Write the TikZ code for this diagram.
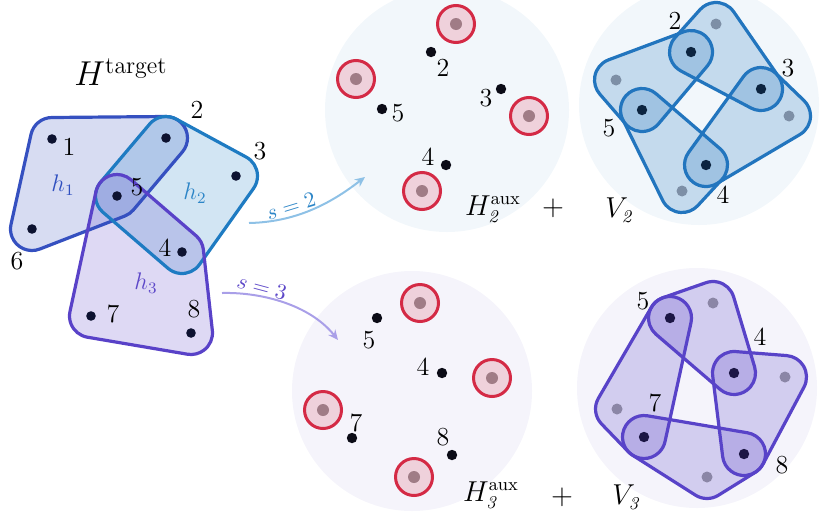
\documentclass[tikz,border=0pt]{standalone}
\usetikzlibrary{arrows.meta}
\definecolor{hAline}{HTML}{3550C0}
\definecolor{hBline}{HTML}{1E7BC2}
\definecolor{hCline}{HTML}{5942C8}
\definecolor{vBline}{HTML}{2275BE}
\definecolor{vPline}{HTML}{5843C8}
\definecolor{bgTop}{HTML}{F2F7FB}
\definecolor{bgBot}{HTML}{F5F4FB}
\definecolor{ringRed}{HTML}{D42A45}
\definecolor{ringFill}{HTML}{EFD1DB}
\definecolor{ringCore}{HTML}{A07C86}
\definecolor{dotBlack}{HTML}{0B0B16}
\definecolor{dotLeft}{HTML}{0D1230}
\definecolor{grayB}{HTML}{7D8FA6}
\definecolor{grayP}{HTML}{8B86A6}
\definecolor{darkB}{HTML}{0C2440}
\definecolor{darkP}{HTML}{1C1645}
\definecolor{arrB}{HTML}{8EC1E6}
\definecolor{arrP}{HTML}{A99FE8}
\definecolor{lblB}{HTML}{2C85C7}
\definecolor{lblA}{HTML}{2F4FBF}
\definecolor{lblP}{HTML}{5D48C8}
\makeatletter
\newcommand\hullcompute[2]{%
  \gdef\hull@n{0}%
  \foreach \hull@px/\hull@py [count=\hull@i] in {#2}{%
    \expandafter\xdef\csname hull@x\hull@i\endcsname{\hull@px}%
    \expandafter\xdef\csname hull@y\hull@i\endcsname{\hull@py}%
    \xdef\hull@n{\hull@i}}%
  \pgfmathtruncatemacro\hull@m{\hull@n+1}%
  \expandafter\xdef\csname hull@x\hull@m\endcsname{\csname hull@x1\endcsname}%
  \expandafter\xdef\csname hull@y\hull@m\endcsname{\csname hull@y1\endcsname}%
  \pgfmathsetmacro\hull@cr{((\csname hull@x2\endcsname)-(\csname hull@x1\endcsname))/10*((\csname hull@y3\endcsname)-(\csname hull@y1\endcsname))/10-((\csname hull@y2\endcsname)-(\csname hull@y1\endcsname))/10*((\csname hull@x3\endcsname)-(\csname hull@x1\endcsname))/10}%
  \pgfmathsetmacro\hull@s{\hull@cr>0 ? 1 : -1}%
  \foreach \hull@i in {1,...,\hull@n}{%
    \pgfmathtruncatemacro\hull@j{\hull@i+1}%
    \pgfmathsetmacro\hull@ang{atan2((\csname hull@y\hull@j\endcsname)-(\csname hull@y\hull@i\endcsname),(\csname hull@x\hull@j\endcsname)-(\csname hull@x\hull@i\endcsname))-90*(\hull@s)}%
    \expandafter\xdef\csname hull@a\hull@i\endcsname{\hull@ang}}%
  \expandafter\xdef\csname hull@a0\endcsname{\csname hull@a\hull@n\endcsname}%
  \pgfmathsetmacro\hull@ex{(\csname hull@x1\endcsname)+#1*cos(\csname hull@a0\endcsname)}%
  \pgfmathsetmacro\hull@ey{(\csname hull@y1\endcsname)+#1*sin(\csname hull@a0\endcsname)}%
  \xdef\hullp{(\hull@ex,\hull@ey)}%
  \foreach \hull@i in {1,...,\hull@n}{%
    \pgfmathtruncatemacro\hull@k{\hull@i-1}%
    \pgfmathtruncatemacro\hull@j{\hull@i+1}%
    \pgfmathsetmacro\hull@d{(\hull@s)*mod((\hull@s)*((\csname hull@a\hull@i\endcsname)-(\csname hull@a\hull@k\endcsname))+720,360)}%
    \pgfmathsetmacro\hull@ex{(\csname hull@x\hull@j\endcsname)+#1*cos(\csname hull@a\hull@i\endcsname)}%
    \pgfmathsetmacro\hull@ey{(\csname hull@y\hull@j\endcsname)+#1*sin(\csname hull@a\hull@i\endcsname)}%
    \xdef\hullp{\hullp\space arc[start angle=\csname hull@a\hull@k\endcsname, delta angle=\hull@d, radius=#1] -- (\hull@ex,\hull@ey)}}%
}
\newcommand\hullshape[3]{\hullcompute{#2}{#3}\expandafter\hull@draw\expandafter{\hullp}{#1}}
\def\hull@draw#1#2{\path[#2] #1 -- cycle;}
\makeatother
\begin{document}
\begin{tikzpicture}[x=0.5pt,y=-0.5pt,
  numlbl/.style={font=\fontsize{13}{15}\selectfont, inner sep=0pt, text=black},
  bigmath/.style={font=\fontsize{13.5}{16}\selectfont, inner sep=0pt},
  slbl/.style={font=\fontsize{11}{13}\selectfont, inner sep=0pt},
  hlbl/.style={font=\fontsize{12}{14}\selectfont, inner sep=0pt},
  dotL/.style={circle, fill=dotLeft, minimum size=4.8pt, inner sep=0pt},
  dotK/.style={circle, fill=dotBlack, minimum size=5.2pt, inner sep=0pt},
  ringnode/.style={circle, draw=ringRed, line width=1.5pt, fill=ringFill, minimum size=18.5pt, inner sep=0pt},
  corenode/.style={circle, fill=ringCore, minimum size=6pt, inner sep=0pt},
  dkB/.style={circle, fill=darkB, minimum size=5.2pt, inner sep=0pt},
  dkP/.style={circle, fill=darkP, minimum size=5.2pt, inner sep=0pt},
  gyB/.style={circle, fill=grayB, minimum size=5.5pt, inner sep=0pt},
  gyP/.style={circle, fill=grayP, minimum size=5.5pt, inner sep=0pt},
  edgeline/.style={line width=1.6pt, line join=round},
  connB/.style={draw=arrB, line width=1pt, -{Stealth[length=5pt,width=4.5pt]}},
  connP/.style={draw=arrP, line width=1pt, -{Stealth[length=5pt,width=4.5pt]}}
]
\useasboundingbox (0,0) rectangle (822,525);
\clip (0,0) rectangle (822,525);
% background discs
\fill[bgTop] (447,110) circle[radius=122];
\fill[bgTop] (699,105) circle[radius=120];
\fill[bgBot] (412,391) circle[radius=120];
\fill[bgBot] (697,388) circle[radius=120];

% ---------- H target ----------
\hullshape{fill=hAline, fill opacity=0.2}{21.5}{52/139, 166/138, 117/196, 32/229}
\hullshape{fill=hBline, fill opacity=0.2}{21.5}{166/138, 236/176, 182/252, 117/196}
\hullshape{fill=hCline, fill opacity=0.2}{21.5}{117/196, 182/252, 191/333, 91/316}
\hullshape{draw=hAline, edgeline}{21.5}{52/139, 166/138, 117/196, 32/229}
\hullshape{draw=hBline, edgeline}{21.5}{166/138, 236/176, 182/252, 117/196}
\hullshape{draw=hCline, edgeline}{21.5}{117/196, 182/252, 191/333, 91/316}

\node[font=\fontsize{17}{20}\selectfont, inner sep=0pt] (Ht) at (121,72) {$H^{\mathrm{target}}$};
\node[dotL] (t1) at (52,139) {};
\node[dotL] (t2) at (166,138) {};
\node[dotL] (t3) at (236,176) {};
\node[dotL] (t5) at (117,196) {};
\node[dotL] (t6) at (32,229) {};
\node[dotL] (t4) at (182,252) {};
\node[dotL] (t7) at (91,316) {};
\node[dotL] (t8) at (191,333) {};
\node[numlbl] (lt1) at (69,147) {1};
\node[numlbl] (lt2) at (197,110) {2};
\node[numlbl] (lt3) at (260,151) {3};
\node[numlbl] (lt5) at (137,187) {5};
\node[numlbl] (lt6) at (17,261) {6};
\node[numlbl] (lt4) at (165,248) {4};
\node[numlbl] (lt7) at (113,314) {7};
\node[numlbl] (lt8) at (194,309) {8};
\node[hlbl, text=lblA] (lh1) at (63,185) {$h_1$};
\node[hlbl, text=lblB] (lh2) at (195,193) {$h_2$};
\node[hlbl, text=lblP] (lh3) at (146,283) {$h_3$};

% ---------- arrows ----------
\coordinate (a2s) at (249,223);
\coordinate (a2e) at (365,177);
\draw[connB] (a2s) .. controls (300,222) and (335,200) .. (a2e);
\node[slbl, text=lblB, rotate=17] (s2) at (291,206) {$s = 2$};
\coordinate (a3s) at (222,293);
\coordinate (a3e) at (338,340);
\draw[connP] (a3s) .. controls (262,292) and (310,305) .. (a3e);
\node[slbl, text=lblP, rotate=-15] (s3) at (262,287) {$s = 3$};

% ---------- H2 aux ----------
\foreach \nm/\x/\y in {ra/456/24, rb/356/79, rc/529/116, rd/422/191}{
  \node[ringnode] (h2\nm) at (\x,\y) {};
  \node[corenode] (h2\nm c) at (\x,\y) {};
}
\node[dotK] (a2n2) at (431,52) {};
\node[dotK] (a2n3) at (501,89) {};
\node[dotK] (a2n5) at (382,109) {};
\node[dotK] (a2n4) at (446,165) {};
\node[numlbl] (la2n2) at (443,68) {2};
\node[numlbl] (la2n3) at (486,98) {3};
\node[numlbl] (la2n5) at (398,113) {5};
\node[numlbl] (la2n4) at (428,157) {4};
\node[bigmath] (H2aux) at (493,209) {$H_{\mathit{2}}^{\mathrm{aux}}$};
\node[bigmath] (plus2) at (553,208) {$+$};

% ---------- V2 ----------
\hullshape{fill=vBline, fill opacity=0.22}{21.5}{761/89, 716/24, 691/52}
\hullshape{fill=vBline, fill opacity=0.22}{21.5}{691/52, 616/80, 642/110}
\hullshape{fill=vBline, fill opacity=0.22}{21.5}{642/110, 682/191, 706/165}
\hullshape{fill=vBline, fill opacity=0.22}{21.5}{706/165, 789/116, 761/89}
\hullshape{draw=vBline, edgeline}{21.5}{761/89, 716/24, 691/52}
\hullshape{draw=vBline, edgeline}{21.5}{691/52, 616/80, 642/110}
\hullshape{draw=vBline, edgeline}{21.5}{642/110, 682/191, 706/165}
\hullshape{draw=vBline, edgeline}{21.5}{706/165, 789/116, 761/89}
\node[gyB] (v2gT) at (716,24) {};
\node[gyB] (v2gL) at (616,80) {};
\node[gyB] (v2gR) at (789,116) {};
\node[gyB] (v2gB) at (682,191) {};
\node[dkB] (v2n2) at (691,52) {};
\node[dkB] (v2n3) at (761,89) {};
\node[dkB] (v2n5) at (642,110) {};
\node[dkB] (v2n4) at (706,165) {};
\node[numlbl] (lv2n2) at (675,21) {2};
\node[numlbl] (lv2n3) at (788,68) {3};
\node[numlbl] (lv2n5) at (609,128) {5};
\node[numlbl] (lv2n4) at (723,195) {4};
\node[bigmath] (V2) at (620,210) {$V_{\mathit{2}}$};

% ---------- H3 aux ----------
\foreach \nm/\x/\y in {ra/420/303, rb/492/378, rc/323/410, rd/414/477}{
  \node[ringnode] (h3\nm) at (\x,\y) {};
  \node[corenode] (h3\nm c) at (\x,\y) {};
}
\node[dotK] (a3n5) at (377,318) {};
\node[dotK] (a3n4) at (442,373) {};
\node[dotK] (a3n7) at (352,438) {};
\node[dotK] (a3n8) at (452,455) {};
\node[numlbl] (la3n5) at (369,340) {5};
\node[numlbl] (la3n4) at (423,367) {4};
\node[numlbl] (la3n7) at (356,423) {7};
\node[numlbl] (la3n8) at (443,437) {8};
\node[bigmath] (H3aux) at (491,495) {$H_{\mathit{3}}^{\mathrm{aux}}$};
\node[bigmath] (plus3) at (562,497) {$+$};

% ---------- V3 ----------
\hullshape{fill=vPline, fill opacity=0.22}{21.5}{734/373, 713/303, 670/318}
\hullshape{fill=vPline, fill opacity=0.22}{21.5}{670/318, 617/409, 644/437}
\hullshape{fill=vPline, fill opacity=0.22}{21.5}{644/437, 707/477, 744/454}
\hullshape{fill=vPline, fill opacity=0.22}{21.5}{744/454, 785/377, 734/373}
\hullshape{draw=vPline, edgeline}{21.5}{734/373, 713/303, 670/318}
\hullshape{draw=vPline, edgeline}{21.5}{670/318, 617/409, 644/437}
\hullshape{draw=vPline, edgeline}{21.5}{644/437, 707/477, 744/454}
\hullshape{draw=vPline, edgeline}{21.5}{744/454, 785/377, 734/373}
\node[gyP] (v3gT) at (713,303) {};
\node[gyP] (v3gR) at (785,377) {};
\node[gyP] (v3gB) at (707,477) {};
\node[gyP] (v3gL) at (617,409) {};
\node[dkP] (v3n5) at (670,318) {};
\node[dkP] (v3n4) at (734,373) {};
\node[dkP] (v3n7) at (644,437) {};
\node[dkP] (v3n8) at (744,454) {};
\node[numlbl] (lv3n5) at (643,301) {5};
\node[numlbl] (lv3n4) at (760,337) {4};
\node[numlbl] (lv3n7) at (655,403) {7};
\node[numlbl] (lv3n8) at (782,465) {8};
\node[bigmath] (V3) at (627,497) {$V_{\mathit{3}}$};
\end{tikzpicture}
\end{document}
